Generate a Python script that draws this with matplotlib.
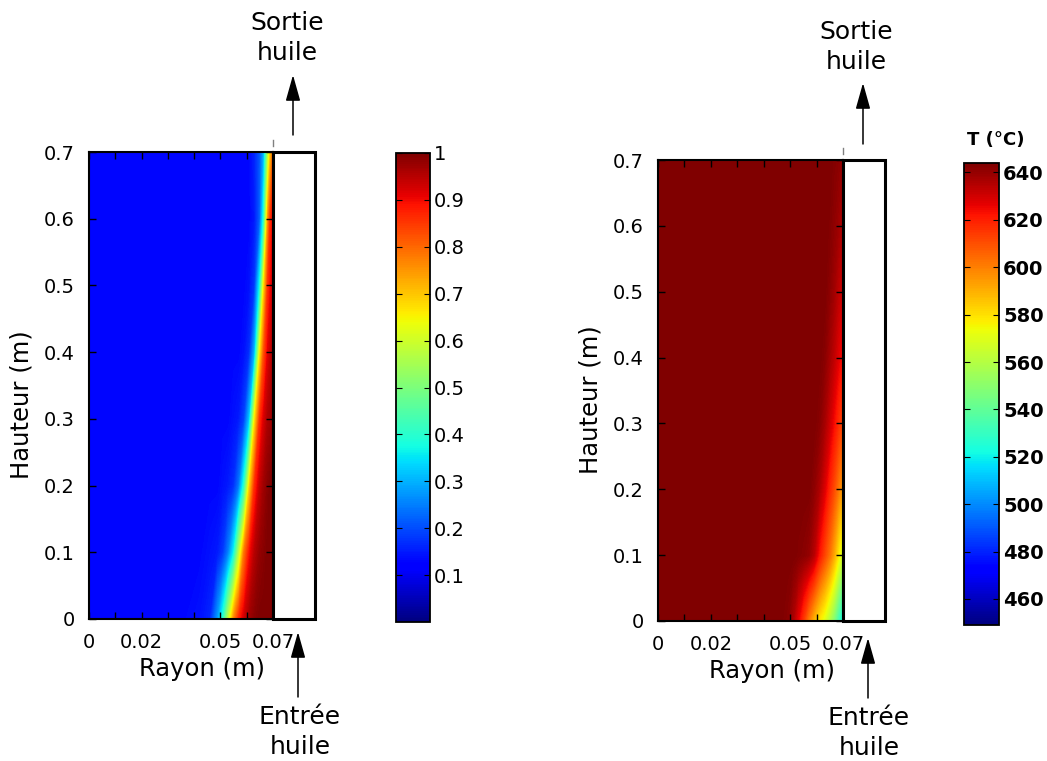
import numpy as np
import matplotlib
matplotlib.use('Agg')
import matplotlib.pyplot as plt
from matplotlib.colors import Normalize
from matplotlib.cm import ScalarMappable
from matplotlib.patches import Rectangle, FancyArrowPatch

plt.rcParams['font.family'] = ['DejaVu Sans']

# grille : rayons (m) et hauteurs (m)
rayon = [0, 0.035, 0.042, 0.046, 0.049, 0.051, 0.053, 0.055, 0.057,
         0.059, 0.061, 0.063, 0.065, 0.0665, 0.068, 0.069, 0.07]
hauteur = [0, 0.1, 0.2, 0.3, 0.4, 0.5, 0.6, 0.7]

# champ adimensionnel (figure de gauche), une ligne par hauteur
champ_adim = [
    [0.13, 0.13, 0.14, 0.16, 0.28, 0.40, 0.58, 0.76, 0.87, 0.93, 0.97, 0.99, 1.0, 1.0, 1.0, 1.0, 1.0],
    [0.13, 0.13, 0.13, 0.14, 0.15, 0.18, 0.25, 0.36, 0.57, 0.78, 0.89, 0.95, 0.98, 0.99, 1.0, 1.0, 1.0],
    [0.13, 0.13, 0.13, 0.13, 0.13, 0.14, 0.15, 0.17, 0.24, 0.40, 0.68, 0.86, 0.94, 0.97, 0.99, 1.0, 1.0],
    [0.13, 0.13, 0.13, 0.13, 0.13, 0.13, 0.13, 0.14, 0.15, 0.19, 0.32, 0.66, 0.86, 0.92, 0.96, 0.97, 0.98],
    [0.13, 0.13, 0.13, 0.13, 0.13, 0.13, 0.13, 0.13, 0.13, 0.14, 0.17, 0.30, 0.66, 0.82, 0.91, 0.94, 0.96],
    [0.13, 0.13, 0.13, 0.13, 0.13, 0.13, 0.13, 0.13, 0.13, 0.13, 0.14, 0.18, 0.38, 0.67, 0.85, 0.90, 0.93],
    [0.13, 0.13, 0.13, 0.13, 0.13, 0.13, 0.13, 0.13, 0.13, 0.13, 0.13, 0.15, 0.22, 0.40, 0.74, 0.86, 0.90],
    [0.13, 0.13, 0.13, 0.13, 0.13, 0.13, 0.13, 0.13, 0.13, 0.13, 0.13, 0.16, 0.21, 0.30, 0.55, 0.70, 0.80],
]

# température en °C (figure de droite)
temperature = [
    [644, 644, 644, 644, 642, 636, 626, 614, 600, 588, 578, 570, 558, 548, 534, 526, 518],
    [644, 644, 644, 644, 644, 644, 643, 642, 640, 634, 622, 612, 602, 592, 580, 572, 566],
    [644, 644, 644, 644, 644, 644, 644, 644, 644, 641, 636, 628, 618, 611, 603, 597, 592],
    [644, 644, 644, 644, 644, 644, 644, 644, 644, 644, 642, 637, 630, 624, 618, 614, 610],
    [644, 644, 644, 644, 644, 644, 644, 644, 644, 644, 644, 642, 637, 633, 628, 625, 622],
    [644, 644, 644, 644, 644, 644, 644, 644, 644, 644, 644, 644, 641, 638, 634, 632, 629],
    [644, 644, 644, 644, 644, 644, 644, 644, 644, 644, 644, 644, 643, 641, 639, 637, 635],
    [644, 644, 644, 644, 644, 644, 644, 644, 644, 644, 644, 644, 644, 643, 642, 641, 640],
]

xticks = [0, 0.01, 0.02, 0.03, 0.04, 0.05, 0.06, 0.07]
xticklabels = ['0', '', '0.02', '', '', '0.05', '', '0.07']
yticks = [0, 0.1, 0.2, 0.3, 0.4, 0.5, 0.6, 0.7]
yticklabels = ['0', '0.1', '0.2', '0.3', '0.4', '0.5', '0.6', '0.7']
cb1_ticks = [0.1, 0.2, 0.3, 0.4, 0.5, 0.6, 0.7, 0.8, 0.9, 1.0]
cb1_labels = ['0.1', '0.2', '0.3', '0.4', '0.5', '0.6', '0.7', '0.8', '0.9', '1']
cb2_ticks = [460, 480, 500, 520, 540, 560, 580, 600, 620, 640]

W, H = 1047, 761
fig = plt.figure(figsize=(W / 100, H / 100), dpi=100)


def px(x0, y0, x1, y1):
    # rectangle en pixels (haut-gauche) -> coordonnées figure
    return [x0 / W, 1 - y1 / H, (x1 - x0) / W, (y1 - y0) / H]


R, Z = np.meshgrid(rayon, hauteur)


def panneau(rect, data, vmin, vmax, ylab_y):
    ax = fig.add_axes(rect)
    ax.contourf(R, Z, np.array(data), levels=np.linspace(vmin, vmax, 257),
                cmap='jet', vmin=vmin, vmax=vmax, antialiased=False)
    ax.set_xlim(0, 0.07)
    ax.set_ylim(0, 0.7)
    ax.set_xticks(xticks)
    ax.set_xticklabels(xticklabels)
    ax.set_yticks(yticks)
    ax.set_yticklabels(yticklabels)
    ax.tick_params(direction='in', top=True, right=True, length=5,
                   width=1, labelsize=14, pad=10)
    for s in ax.spines.values():
        s.set_linewidth(1.5)
    ax.set_xlabel('Rayon (m)', fontsize=17.5)
    ax.set_ylabel('Hauteur (m)', fontsize=17.5)
    ax.xaxis.set_label_coords(0.614, -0.082)
    ax.yaxis.set_label_coords(-0.30, ylab_y)
    # conduite d'huile (rectangle blanc à droite)
    ax.add_patch(Rectangle((1.0, 0.0), 0.228, 1.0, transform=ax.transAxes,
                           facecolor='white', edgecolor='black', lw=2.2,
                           clip_on=False, zorder=5))
    ax.plot([1.0, 1.0], [1.012, 1.025], transform=ax.transAxes, color='gray',
            lw=1, clip_on=False)
    return ax


def fleche(x, y_tete, y_queue):
    fig.add_artist(FancyArrowPatch(
        (x / W, 1 - y_queue / H), (x / W, 1 - y_tete / H),
        transform=fig.transFigure, arrowstyle='-|>,head_length=1.6,head_width=0.45',
        mutation_scale=10, color='black', lw=1.1, shrinkA=0, shrinkB=0))


# --- figure de gauche
ax1 = panneau(px(89, 152, 273, 619), champ_adim, 0, 1, 0.46)
cax1 = fig.add_axes(px(396, 153, 430, 622))
cb1 = fig.colorbar(ScalarMappable(Normalize(0, 1), cmap='jet'), cax=cax1)
cb1.set_ticks(cb1_ticks)
cb1.set_ticklabels(cb1_labels)
cax1.tick_params(direction='in', left=True, right=True, length=4, labelsize=14, pad=3)
cb1.outline.set_linewidth(1.3)

fig.text(287 / W, 1 - 38 / H, 'Sortie\nhuile', ha='center', va='center',
         fontsize=18, linespacing=1.3)
fleche(293, 75, 135)
fig.text(300 / W, 1 - 732 / H, 'Entrée\nhuile', ha='center', va='center',
         fontsize=18, linespacing=1.3)
fleche(298, 632, 697)

# --- figure de droite
ax2 = panneau(px(658, 160, 843, 621), temperature, 449, 644, 0.48)
cax2 = fig.add_axes(px(964, 163, 999, 625))
cb2 = fig.colorbar(ScalarMappable(Normalize(449, 644), cmap='jet'), cax=cax2)
cb2.set_ticks(cb2_ticks)
cax2.tick_params(direction='in', left=True, right=True, length=4, labelsize=14, pad=3)
for t in cax2.get_yticklabels():
    t.set_fontweight('bold')
cb2.outline.set_linewidth(1.3)
fig.text(996 / W, 1 - 140 / H, 'T (°C)', ha='center', va='center',
         fontsize=13, fontweight='bold')

fig.text(856 / W, 1 - 47 / H, 'Sortie\nhuile', ha='center', va='center',
         fontsize=18, linespacing=1.3)
fleche(863, 83, 144)
fig.text(869 / W, 1 - 733 / H, 'Entrée\nhuile', ha='center', va='center',
         fontsize=18, linespacing=1.3)
fleche(868, 638, 698)

fig.savefig('out.png', dpi=100)
